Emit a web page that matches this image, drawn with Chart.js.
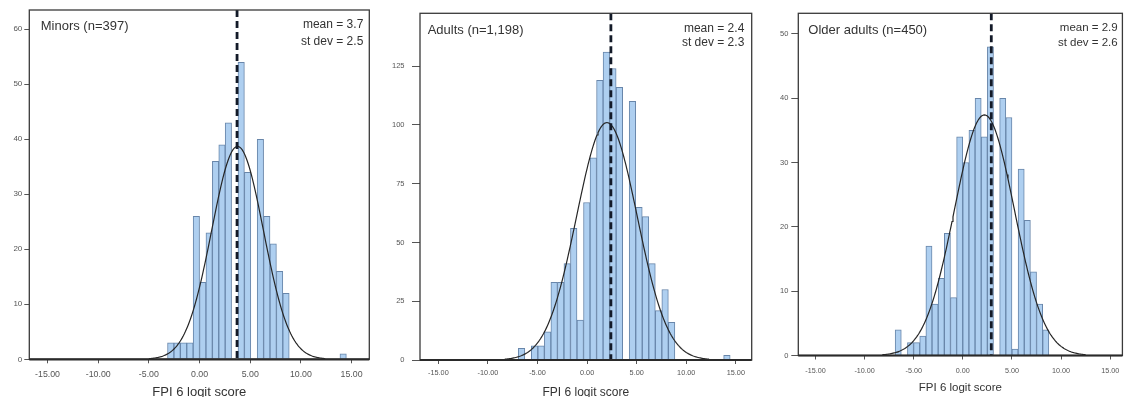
<!DOCTYPE html>
<html lang="en">
<head>
<meta charset="UTF-8">
<title>FPI 6 logit score</title>
<script src="https://cdn.jsdelivr.net/npm/chart.js"></script>
<style>
  html, body { margin: 0; padding: 0; background: #fff; overflow: hidden; }
  .panel { position: absolute; top: 0; }
</style>
</head>
<body>
<div class="panel" style="left:0px"><canvas id="c0" width="375" height="400"></canvas></div>
<div class="panel" style="left:375px"><canvas id="c1" width="380" height="400"></canvas></div>
<div class="panel" style="left:755px"><canvas id="c2" width="371" height="400"></canvas></div>
<script>
// groups and their summary numbers
const groups = ['Minors (n=397)', 'Adults (n=1,198)', 'Older adults (n=450)'];
const means = [3.7, 2.4, 2.9];
const stdevs = [2.5, 2.3, 2.6];

// histogram: left edge of first bin, bin width, counts per bin
const binStart = [-3.16, -6.94, -6.89];
const binWidth = [0.632, 0.658, 0.626];
const minorsCounts = [3, 3, 3, 3, 26, 14, 23, 36, 39, 43, 0, 54, 34, 0, 40, 26, 21, 16, 12];
const adultsCounts = [5, 0, 6, 6, 12, 33, 33, 41, 56, 17, 67, 86, 119, 131, 124, 116, 0, 110, 65, 61, 41, 21, 30, 16];
const olderCounts = [4, 0, 2, 2, 3, 17, 8, 12, 19, 9, 34, 30, 35, 40, 34, 48, 0, 40, 37, 1, 29, 21, 13, 8, 4];
const allCounts = [minorsCounts, adultsCounts, olderCounts];

// lone bar far right
const outlierX = [14.17, 14.1, null];
const outlierCount = [1, 2, 0];

// fitted normal curve as it appears: centre, spread, peak, drawn range
const curveCentre = [3.75, 2.0, 2.2];
const curveSd = [2.55, 3.05, 3.05];
const curvePeak = [38.7, 101, 37.4];
const curveFrom = [-5, -8.3, -8.2];
const curveTo = [12.4, 12.3, 12.5];

// axes
const xMin = [-16.8, -16.85, -16.75];
const xMax = [16.75, 16.6, 16.25];
const xTicks = [-15, -10, -5, 0, 5, 10, 15];
const yMax = [63.5, 147.5, 53.2];
const yStep = [10, 25, 10];
const xTitle = 'FPI 6 logit score';

// per panel layout (pixels)
const looks = [
  { pad: { left: 0, right: 5.7, top: 10, bottom: 0 }, yW: 29.3, xH: 40.7, yFont: 8, yTick: 5, yPad: 2,
    xFont: 8.8, xPad: 6, tFont: 13, tPad: 0, lFont: 13, lx: 11.4, sFont: 12, rx: 6, sdY: 31.7 },
  { pad: { left: 0, right: 3.3, top: 13.3, bottom: 0 }, yW: 45, xH: 40, yFont: 7.5, yTick: 8, yPad: 7.5,
    xFont: 7.3, xPad: 4.6, tFont: 12, tPad: 0, lFont: 13, lx: 7.7, sFont: 12, rx: 7.4, sdY: 29.4 },
  { pad: { left: 0, right: 2, top: 13.3, bottom: 0 }, yW: 43.3, xH: 44.5, yFont: 7.5, yTick: 7, yPad: 3,
    xFont: 7.2, xPad: 6.8, tFont: 11.5, tPad: 5.4, lFont: 13, lx: 10, sFont: 11.5, rx: 4.7, sdY: 29.4 }
];

const FONT = '"Liberation Sans", Arial, Helvetica, sans-serif';
Chart.defaults.font.family = FONT;

// box round the plot + the corner texts
const panelText = {
  id: 'panelText',
  afterDatasetsDraw(chart, args, o) {
    const { ctx, chartArea: a } = chart;
    ctx.save();
    ctx.strokeStyle = '#3a3a3a';
    ctx.lineWidth = 1.3;
    ctx.strokeRect(a.left, a.top, a.right - a.left, a.bottom - a.top);
    ctx.lineWidth = 2.2;
    ctx.strokeStyle = '#2a2a2a';
    ctx.beginPath();
    ctx.moveTo(a.left, a.bottom);
    ctx.lineTo(a.right, a.bottom);
    ctx.stroke();

    ctx.fillStyle = '#333';
    ctx.textBaseline = 'middle';
    ctx.textAlign = 'left';
    ctx.font = o.lFont + 'px ' + FONT;
    ctx.fillText(o.label, a.left + o.lx, a.top + 16.7);
    ctx.textAlign = 'right';
    ctx.font = o.sFont + 'px ' + FONT;
    ctx.fillText('mean = ' + o.mean.toFixed(1), a.right - o.rx, a.top + 15);
    ctx.fillText('st dev = ' + o.sd.toFixed(1), a.right - o.rx, a.top + o.sdY);
    ctx.restore();
  }
};

function barPoints(i) {
  const pts = allCounts[i].map((c, k) => ({ x: binStart[i] + (k + 0.5) * binWidth[i], y: c }));
  if (outlierX[i] !== null) pts.push({ x: outlierX[i], y: outlierCount[i] });
  return pts;
}

function curvePoints(i) {
  const pts = [];
  for (let x = curveFrom[i]; x <= curveTo[i] + 1e-9; x += 0.1) {
    const z = (x - curveCentre[i]) / curveSd[i];
    pts.push({ x: x, y: curvePeak[i] * Math.exp(-0.5 * z * z) });
  }
  return pts;
}

for (let i = 0; i < 3; i++) {
  const L = looks[i];
  const ctx = document.getElementById('c' + i).getContext('2d');
  new Chart(ctx, {
    type: 'bar',
    data: {
      datasets: [
        {
          type: 'line',
          data: [{ x: means[i], y: yMax[i] }, { x: means[i], y: 0 }],
          borderColor: '#131a28',
          borderWidth: 2.8,
          borderDash: [7, 4],
          pointRadius: 0,
          order: 1
        },
        {
          type: 'line',
          data: curvePoints(i),
          borderColor: '#262626',
          borderWidth: 1.2,
          pointRadius: 0,
          tension: 0,
          order: 2
        },
        {
          type: 'bar',
          data: barPoints(i),
          backgroundColor: 'rgb(174, 207, 240)',
          borderColor: 'rgb(104, 134, 170)',
          borderWidth: 1,
          borderSkipped: 'start',
          barPercentage: 1,
          categoryPercentage: 1,
          order: 3
        }
      ]
    },
    options: {
      responsive: false,
      animation: false,
      events: [],
      layout: { padding: L.pad },
      plugins: {
        legend: { display: false },
        tooltip: { enabled: false },
        panelText: { label: groups[i], mean: means[i], sd: stdevs[i],
          lFont: L.lFont, lx: L.lx, sFont: L.sFont, rx: L.rx, sdY: L.sdY }
      },
      scales: {
        x: {
          type: 'linear',
          min: xMin[i],
          max: xMax[i],
          offset: false,
          afterBuildTicks(s) { s.ticks = xTicks.map(v => ({ value: v })); },
          afterFit(s) { s.height = L.xH; },
          ticks: {
            callback: v => Number(v).toFixed(2),
            font: { size: L.xFont },
            color: '#555',
            padding: L.xPad,
            maxRotation: 0,
            autoSkip: false
          },
          grid: { display: true, drawOnChartArea: false, offset: false, tickLength: 4, tickColor: '#555' },
          border: { display: false },
          title: {
            display: true,
            text: xTitle,
            color: '#333',
            font: { size: L.tFont },
            padding: { top: 0, bottom: L.tPad }
          }
        },
        y: {
          min: 0,
          max: yMax[i],
          afterFit(s) { s.width = L.yW; },
          ticks: {
            stepSize: yStep[i],
            includeBounds: false,
            font: { size: L.yFont },
            color: '#555',
            padding: L.yPad
          },
          grid: { display: true, drawOnChartArea: false, tickLength: L.yTick, tickColor: '#555' },
          border: { display: false }
        }
      }
    },
    plugins: [panelText]
  });
}
</script>
</body>
</html>
